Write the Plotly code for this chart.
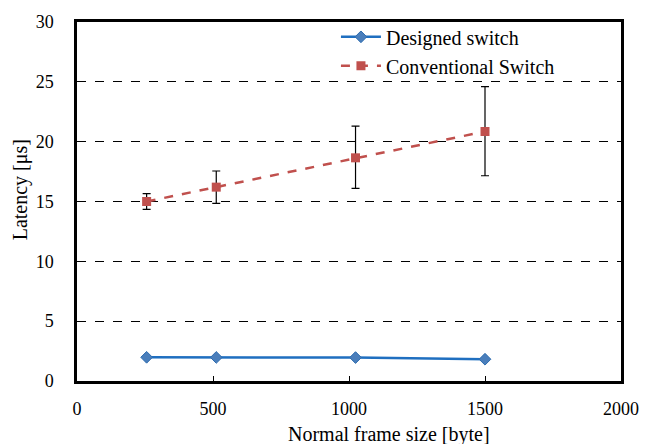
import plotly.graph_objects as go

frame_sizes = [256, 512, 1024, 1500]
designed = [1.98, 1.97, 1.96, 1.82]
conventional = [15.0, 16.2, 18.65, 20.85]
conv_err_plus = [0.65, 1.35, 2.65, 3.75]
conv_err_minus = [0.65, 1.35, 2.55, 3.7]

x_ticks = [0, 500, 1000, 1500, 2000]
y_ticks = [0, 5, 10, 15, 20, 25, 30]

x_title = "Normal frame size [byte]"
y_title = "Latency [μs]"

font_family = "Liberation Serif"

fig = go.Figure()
fig.add_trace(go.Scatter(
    x=frame_sizes, y=designed, name="Designed switch",
    mode="lines+markers",
    line=dict(color="#1F6FC0", width=2.5),
    marker=dict(symbol="diamond", size=9, color="#4A7EBB", line=dict(color="#2E6DB0", width=1)),
))
fig.add_trace(go.Scatter(
    x=frame_sizes, y=conventional, name="Conventional Switch",
    mode="lines+markers",
    line=dict(color="#C0504D", width=2.5, dash="dash"),
    marker=dict(symbol="square", size=9, color="#C0504D"),
    error_y=dict(type="data", symmetric=False, array=conv_err_plus, arrayminus=conv_err_minus,
                 color="black", thickness=1.2, width=4),
))

fig.update_layout(
    width=651, height=444,
    margin=dict(l=77, r=24, t=17, b=63),
    paper_bgcolor="white", plot_bgcolor="white",
    font=dict(family=font_family, size=18, color="black"),
    showlegend=True,
    legend=dict(x=0.476, y=1.013, xanchor="left", yanchor="top",
                bgcolor="rgba(255,255,255,0)", font=dict(size=20, family=font_family),
                tracegroupgap=0, itemwidth=40),
    xaxis=dict(
        range=[0, 2000], tickvals=x_ticks, ticks="inside", ticklen=5, tickcolor="black",
        showline=True, linecolor="black", linewidth=2.5, mirror=True,
        showgrid=False, zeroline=False, ticklabelstandoff=10,
        tickfont=dict(size=18),
    ),
    yaxis=dict(
        range=[0, 30], tickvals=y_ticks, ticks="inside", ticklen=5, tickcolor="black",
        showline=True, linecolor="black", linewidth=2.5, mirror=True,
        showgrid=True, gridcolor="black", griddash="dash", gridwidth=1,
        zeroline=False, ticklabelstandoff=17,
        tickfont=dict(size=18),
    ),
    annotations=[
        dict(text=x_title, xref="paper", yref="paper", x=(392 - 77) / 550, y=(381 - 435) / 364,
             xanchor="center", yanchor="middle", showarrow=False, font=dict(size=20, family=font_family)),
        dict(text=y_title, xref="paper", yref="paper", x=(20 - 77) / 550, y=(381 - 187) / 364,
             xanchor="center", yanchor="middle", textangle=-90, showarrow=False,
             font=dict(size=20, family=font_family)),
    ],
)

fig.write_html("out.html")
